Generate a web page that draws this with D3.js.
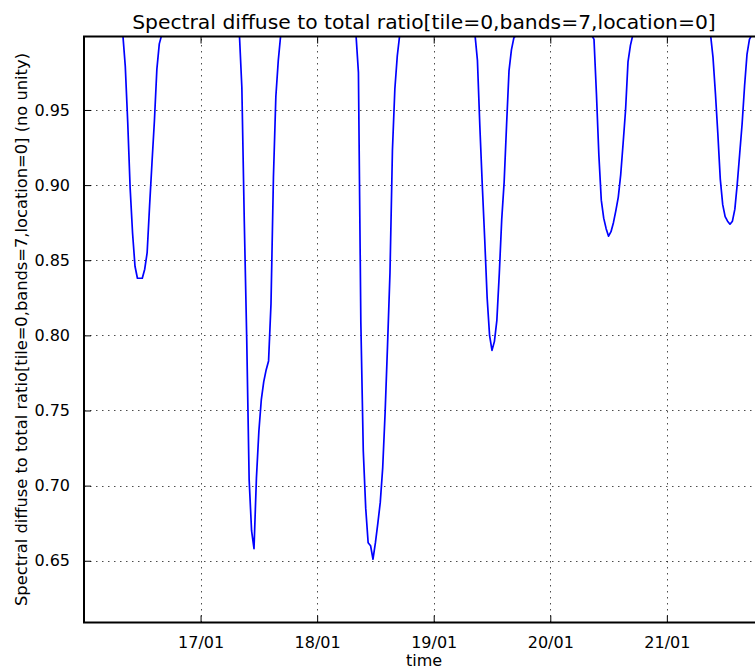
<!DOCTYPE html>
<html>
<head>
<meta charset="utf-8">
<script src="https://cdn.jsdelivr.net/npm/d3@7"></script>
<style>
  body { margin: 0; background: #fff; }
  text { font-family: "DejaVu Sans", sans-serif; fill: #000; }
</style>
</head>
<body>
<svg id="chart" width="755" height="671"></svg>
<script>
// ---- labels ----
const titleText = "Spectral diffuse to total ratio[tile=0,bands=7,location=0]";
const yLabelText = "Spectral diffuse to total ratio[tile=0,bands=7,location=0] (no unity)";
const xLabelText = "time";

// ---- axes ----
const xDomain = ["2014-01-16T00:00", "2014-01-21T20:00"];
const yDomain = [0.6089, 0.9989];
const yTicks = [0.65, 0.70, 0.75, 0.80, 0.85, 0.90, 0.95];
const xTicks = ["2014-01-17T00:00", "2014-01-18T00:00", "2014-01-19T00:00", "2014-01-20T00:00", "2014-01-21T00:00"];
const xTickLabels = ["17/01", "18/01", "19/01", "20/01", "21/01"];

// ---- series: daytime values every 30 minutes, 1.0 overnight ----
const stepMinutes = 30;
const nightValue = 1.0;
const dipStarts = ["2014-01-16T08:00", "2014-01-17T08:00", "2014-01-18T08:00",
                   "2014-01-19T08:30", "2014-01-20T08:30", "2014-01-21T09:00"];
const dip16 = [1.0, 0.979, 0.942, 0.898, 0.868, 0.846, 0.838, 0.838, 0.838, 0.844, 0.855, 0.886, 0.915, 0.943, 0.977, 0.994, 1.0];
const dip17 = [1.0, 0.965, 0.876, 0.798, 0.704, 0.670, 0.658, 0.705, 0.736, 0.757, 0.769, 0.777, 0.783, 0.821, 0.905, 0.959, 0.983, 1.0];
const dip18 = [1.0, 0.975, 0.808, 0.723, 0.685, 0.662, 0.660, 0.651, 0.662, 0.675, 0.689, 0.712, 0.749, 0.794, 0.842, 0.923, 0.964, 0.986, 1.0];
const dip19 = [1.0, 0.983, 0.939, 0.900, 0.864, 0.825, 0.800, 0.790, 0.796, 0.810, 0.841, 0.877, 0.902, 0.940, 0.976, 0.990, 0.998, 1.0];
const dip20 = [1.0, 0.997, 0.961, 0.920, 0.890, 0.878, 0.871, 0.866, 0.869, 0.875, 0.883, 0.892, 0.907, 0.928, 0.950, 0.982, 0.993, 1.0];
const dip21 = [1.0, 0.985, 0.961, 0.934, 0.904, 0.887, 0.879, 0.876, 0.874, 0.876, 0.884, 0.901, 0.921, 0.941, 0.966, 0.987, 0.997, 1.0];
const dips = [dip16, dip17, dip18, dip19, dip20, dip21];

const parse = d3.utcParse("%Y-%m-%dT%H:%M");

const series = [{ t: parse(xDomain[0]), v: nightValue }];
dips.forEach((vals, i) => {
  const t0 = parse(dipStarts[i]);
  vals.forEach((v, k) => series.push({ t: d3.utcMinute.offset(t0, k * stepMinutes), v }));
});
series.push({ t: parse(xDomain[1]), v: nightValue });

// ---- layout ----
const svg = d3.select("#chart");
const plot = { left: 84, top: 36.5, right: 764, bottom: 622.5 };

const x = d3.scaleUtc().domain(xDomain.map(parse)).range([plot.left, plot.right]);
const y = d3.scaleLinear().domain(yDomain).range([plot.bottom, plot.top]);

svg.append("rect").attr("width", 755).attr("height", 671).attr("fill", "#fff");

svg.append("defs").append("clipPath").attr("id", "plotClip")
  .append("rect")
  .attr("x", plot.left).attr("y", plot.top)
  .attr("width", plot.right - plot.left).attr("height", plot.bottom - plot.top);

// grid
const grid = svg.append("g").attr("stroke", "#000").attr("stroke-opacity", 0.7)
  .attr("stroke-width", 1).attr("stroke-dasharray", "1.5,4.5");
grid.selectAll("line.gy").data(yTicks).join("line")
  .attr("x1", plot.left).attr("x2", plot.right)
  .attr("y1", d => Math.round(y(d)) + 0.5).attr("y2", d => Math.round(y(d)) + 0.5);
grid.selectAll("line.gx").data(xTicks).join("line")
  .attr("y1", plot.bottom).attr("y2", plot.top)
  .attr("x1", d => Math.round(x(parse(d))) + 0.5).attr("x2", d => Math.round(x(parse(d))) + 0.5);

// data line
svg.append("path")
  .datum(series)
  .attr("clip-path", "url(#plotClip)")
  .attr("fill", "none")
  .attr("stroke", "#0000ff")
  .attr("stroke-width", 1.7)
  .attr("stroke-linejoin", "round")
  .attr("d", d3.line().x(d => x(d.t)).y(d => y(d.v)));

// axes (ticks point inwards, like the frame's inner ticks)
const tickLen = 7;
const yAxis = d3.axisLeft(y).tickValues(yTicks).tickFormat(d3.format(".2f"))
  .tickSizeInner(-tickLen).tickSizeOuter(0).tickPadding(tickLen + 7);
const gy = svg.append("g").attr("transform", `translate(${plot.left},0)`).call(yAxis);
gy.select(".domain").remove();
gy.selectAll("line").attr("stroke", "#000").attr("stroke-width", 1);
gy.selectAll("text").attr("font-size", 16).attr("font-family", "DejaVu Sans");

const xAxis = d3.axisBottom(x).tickValues(xTicks.map(parse))
  .tickFormat((d, i) => xTickLabels[i])
  .tickSizeInner(-tickLen).tickSizeOuter(0).tickPadding(tickLen + 7);
const gx = svg.append("g").attr("transform", `translate(0,${plot.bottom})`).call(xAxis);
gx.select(".domain").remove();
gx.selectAll("line").attr("stroke", "#000").attr("stroke-width", 1);
gx.selectAll("text").attr("font-size", 16).attr("font-family", "DejaVu Sans");

// top ticks
const xTop = d3.axisTop(x).tickValues(xTicks.map(parse)).tickFormat("")
  .tickSizeInner(-tickLen).tickSizeOuter(0);
const gxt = svg.append("g").attr("transform", `translate(0,${plot.top})`).call(xTop);
gxt.select(".domain").remove();
gxt.selectAll("line").attr("stroke", "#000");

// frame
svg.append("rect")
  .attr("x", plot.left).attr("y", plot.top)
  .attr("width", plot.right - plot.left).attr("height", plot.bottom - plot.top)
  .attr("fill", "none").attr("stroke", "#000").attr("stroke-width", 2);

// title and axis labels
svg.append("text")
  .attr("x", (plot.left + plot.right) / 2).attr("y", 28.5)
  .attr("text-anchor", "middle").attr("font-size", 20.3)
  .text(titleText);

svg.append("text")
  .attr("x", (plot.left + plot.right) / 2).attr("y", 666)
  .attr("text-anchor", "middle").attr("font-size", 16)
  .text(xLabelText);

svg.append("text")
  .attr("transform", `translate(27,${(plot.top + plot.bottom) / 2}) rotate(-90)`)
  .attr("text-anchor", "middle").attr("font-size", 16.3)
  .text(yLabelText);
</script>
</body>
</html>
